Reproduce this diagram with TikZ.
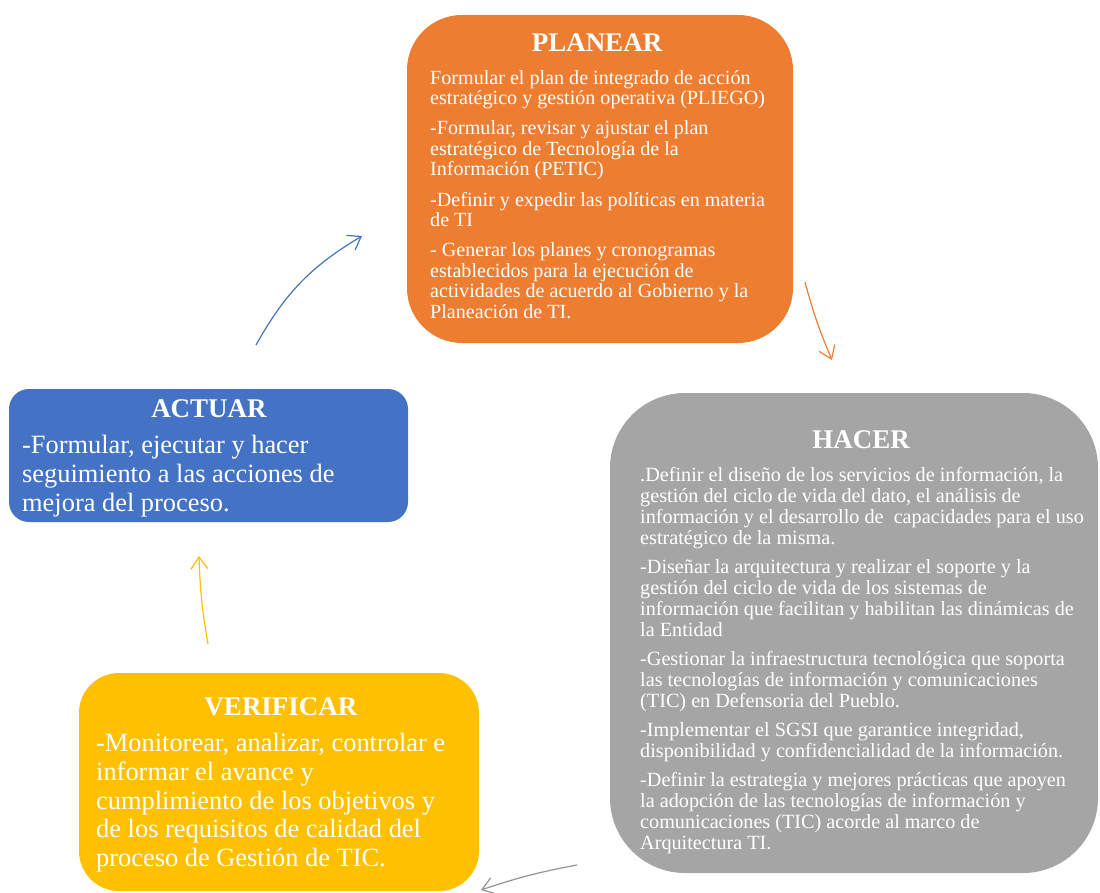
\documentclass[tikz,border=0pt]{standalone}
\usepackage{fontspec}
\setmainfont{Liberation Serif}
\usetikzlibrary{arrows.meta}

\definecolor{planorange}{HTML}{ED7D31}
\definecolor{hacergray}{HTML}{A5A5A5}
\definecolor{actuarblue}{HTML}{4472C4}
\definecolor{verifyellow}{HTML}{FFC000}

\begin{document}
\begin{tikzpicture}[
    x=1pt, y=-1pt,
    phase/.style={rounded corners=#1, inner sep=0pt},
    heading/.style={text=white, anchor=base, inner sep=0pt,
        font=\bfseries\fontsize{27}{30}\selectfont},
    bodysmall/.style={text=white, align=left, anchor=north west, inner sep=0pt,
        font=\fontsize{20.1}{20.4}\selectfont},
    bodylarge/.style={bodysmall, font=\fontsize{26.4}{28.8}\selectfont},
    turn/.style={line width=1.2pt, -{Straight Barb[length=12pt,width=17pt]}}
  ]
  \useasboundingbox (0,0) rectangle (1100,893);

  \node[phase=55pt, fill=planorange, minimum width=386, minimum height=328]
  (planear) at (600,179) {};
  \node[phase=75pt, fill=hacergray, minimum width=488, minimum height=480]
  (hacer) at (854,633) {};
  \node[phase=40pt, fill=verifyellow, minimum width=400, minimum height=218]
  (verificar) at (279,782) {};
  \node[phase=20pt, fill=actuarblue, minimum width=399, minimum height=133]
  (actuar) at (208.5,455.5) {};

  \node[heading] (planeartitle) at (597,52) {PLANEAR};
  \node[heading] (hacertitle) at (861,448) {HACER};
  \node[heading] (actuartitle) at (209,417) {ACTUAR};
  \node[heading] (verificartitle) at (281,715) {VERIFICAR};

  \node[bodysmall] (planeartext) at (430,70) {%
    Formular el plan de integrado de acción\\
    estratégico y gestión operativa (PLIEGO)\\[10pt]
    -Formular, revisar y ajustar el plan\\
    estratégico de Tecnología de la\\
    Información (PETIC)\\[10pt]
    -Definir y expedir las políticas en materia\\
    de TI\\[10pt]
    - Generar los planes y cronogramas\\
    establecidos para la ejecución de\\
    actividades de acuerdo al Gobierno y la\\
    Planeación de TI.};

  \node[bodysmall, font=\fontsize{20.2}{21}\selectfont] (hacertext) at (640,467) {%
    .Definir el diseño de los servicios de información, la\\
    gestión del ciclo de vida del dato, el análisis de\\
    información y el desarrollo de \ capacidades para el uso\\
    estratégico de la misma.\\[8pt]
    -Diseñar la arquitectura y realizar el soporte y la\\
    gestión del ciclo de vida de los sistemas de\\
    información que facilitan y habilitan las dinámicas de\\
    la Entidad\\[8pt]
    -Gestionar la infraestructura tecnológica que soporta\\
    las tecnologías de información y comunicaciones\\
    (TIC) en Defensoria del Pueblo.\\[8pt]
    -Implementar el SGSI que garantice integridad,\\
    disponibilidad y confidencialidad de la información.\\[8pt]
    -Definir la estrategia y mejores prácticas que apoyen\\
    la adopción de las tecnologías de información y\\
    comunicaciones (TIC) acorde al marco de\\
    Arquitectura TI.};

  \node[bodylarge] (actuartext) at (22,435) {%
    -Formular, ejecutar y hacer\\
    seguimiento a las acciones de\\
    mejora del proceso.};

  \node[bodylarge] (verificartext) at (96,733) {%
    -Monitorear, analizar, controlar e\\
    informar el avance y\\
    cumplimiento de los objetivos y\\
    de los requisitos de calidad del\\
    proceso de Gestión de TIC.};

  \coordinate (actuarout) at (256,345);
  \coordinate (planearin) at (362,236);
  \coordinate (planearout) at (805,282);
  \coordinate (hacerin) at (832,360);
  \coordinate (hacerout) at (577,865);
  \coordinate (verificarin) at (481,890);
  \coordinate (verificarout) at (208,644);
  \coordinate (actuarin) at (199,556);

  \draw[turn, actuarblue] (actuarout) to[bend left=15] (planearin);
  \draw[turn, planorange] (planearout) to[bend right=4] (hacerin);
  \draw[turn, hacergray!90!black] (hacerout) to[bend right=4] (verificarin);
  \draw[turn, verifyellow] (verificarout) to[bend left=4] (actuarin);
\end{tikzpicture}
\end{document}
